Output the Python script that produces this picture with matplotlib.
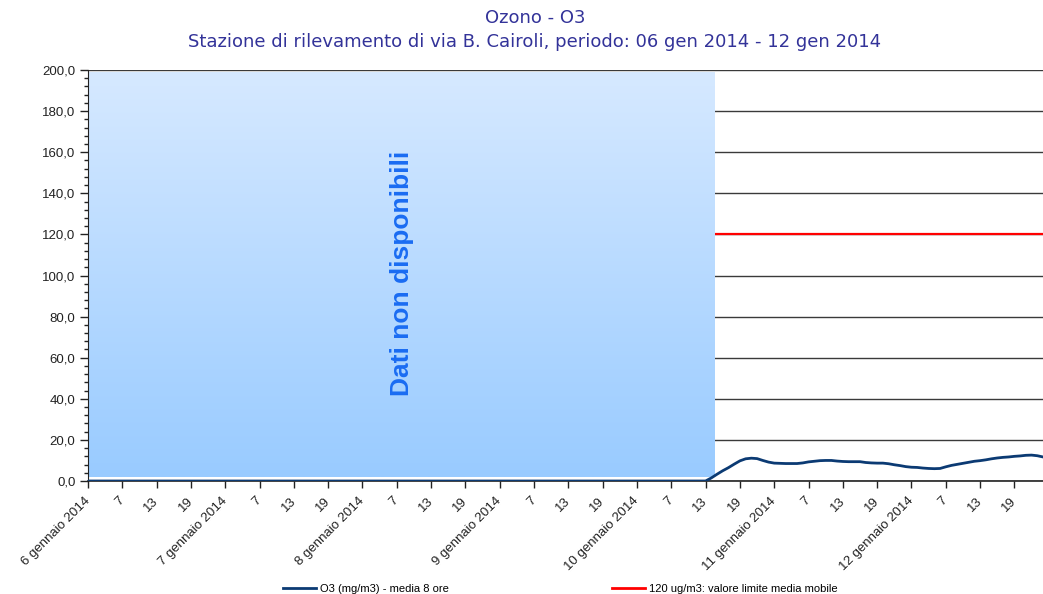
import matplotlib
matplotlib.use("Agg")
import matplotlib.pyplot as plt
import numpy as np
from matplotlib.lines import Line2D
from matplotlib.ticker import MultipleLocator, FuncFormatter

# ---------------- data ----------------
title_line1 = "Ozono - O3"
title_line2 = "Stazione di rilevamento di via B. Cairoli, periodo: 06 gen 2014 - 12 gen 2014"
days = [6, 7, 8, 9, 10, 11, 12]
hour_labels = ["7", "13", "19"]
series_label = "O3 (mg/m3) - media 8 ore"
limit_label = "120 ug/m3: valore limite media mobile"
limit_value = 120.0
no_data_text = "Dati non disponibili"
no_data_end_hour = 109.6   # hours after 6 gen 01:00 without data

# hourly values, hour 0 = 6 gen 2014 01:00
o3_zero_part = [0.0] * 109
o3_measured = [1.5, 3.3, 5.0, 6.5, 8.2, 9.8, 10.8, 11.1, 10.9, 10.0,
               9.2, 8.7, 8.6, 8.5, 8.5, 8.5, 8.8, 9.3, 9.6, 9.9,
               10.0, 10.0, 9.7, 9.5, 9.4, 9.4, 9.4, 9.0, 8.8, 8.7,
               8.7, 8.4, 7.9, 7.5, 7.0, 6.7, 6.6, 6.3, 6.1, 6.0,
               6.1, 6.9, 7.6, 8.1, 8.6, 9.1, 9.6, 9.9, 10.3, 10.8,
               11.2, 11.5, 11.7, 12.0, 12.2, 12.5, 12.6, 12.3, 11.7]
o3_values = o3_zero_part + o3_measured
hours = np.arange(len(o3_values))

# ---------------- figure ----------------
W, H = 1043, 594
fig = plt.figure(figsize=(W / 100, H / 100), dpi=100)
fig.patch.set_facecolor("white")

ax = fig.add_axes([88 / W, 1 - 481 / H, (W - 88) / W, (481 - 70) / H])
x_max = hours[-1]
ax.set_xlim(0, x_max)
ax.set_ylim(0, 200)

# grid
ax.set_axisbelow(True)
ax.yaxis.set_major_locator(MultipleLocator(20))
ax.yaxis.set_minor_locator(MultipleLocator(4))
ax.grid(axis="y", which="major", color="#3a3a3a", linewidth=1.0, zorder=0.5)
ax.yaxis.set_major_formatter(FuncFormatter(lambda v, p: f"{v:.1f}".replace(".", ",")))

# no-data shaded area (vertical gradient)
top_c = np.array([214, 233, 255]) / 255
bot_c = np.array([153, 203, 255]) / 255
frac = np.linspace(0, 1, 256)[:, None]
grad = (top_c[None, :] * (1 - frac) + bot_c[None, :] * frac)[:, None, :]
ax.imshow(grad, extent=[0, no_data_end_hour, 2, 199], aspect="auto",
          origin="upper", zorder=1, interpolation="bilinear")
ax.text(54.9, 101, no_data_text, rotation=90, ha="center", va="center",
        fontsize=19, fontweight="bold", color="#1a6cf2",
        family="Liberation Sans", zorder=2)

# series
line_color = "#0b3a73"
ax.plot(hours, o3_values, color=line_color, linewidth=2.0, zorder=3,
        solid_joinstyle="round")
ax.hlines(limit_value, no_data_end_hour, x_max, color="#ff0000",
          linewidth=1.6, zorder=3)

# x ticks
tick_pos = []
tick_lab = []
for i, d in enumerate(days):
    base = i * 24
    tick_pos.append(base)
    tick_lab.append(f"{d} gennaio 2014")
    for j, hl in enumerate(hour_labels):
        tick_pos.append(base + 6 * (j + 1))
        tick_lab.append(hl)
ax.set_xticks(tick_pos)
ax.set_xticklabels(tick_lab, rotation=45, ha="right", va="center",
                   rotation_mode="anchor", fontsize=9.5, family="Liberation Sans",
                   color="#222222")
ax.tick_params(axis="x", length=5, width=1, direction="out", pad=8, color="#222222")
ax.tick_params(axis="y", which="major", length=6, width=1, direction="out",
               labelsize=9.5, pad=3, color="#222222", labelcolor="#222222")
ax.tick_params(axis="y", which="minor", length=3, width=1, direction="out", color="#222222")
for lab in ax.get_yticklabels():
    lab.set_family("Liberation Sans")

for s in ["right", "top"]:
    ax.spines[s].set_visible(False)
ax.spines["left"].set_color("#222222")
ax.spines["bottom"].set_color("#222222")
ax.spines["bottom"].set_linewidth(1.2)

# titles
title_color = "#333399"
fig.text(535 / W, 1 - 18 / H, title_line1, ha="center", va="center",
         fontsize=13, color=title_color, family="DejaVu Sans")
fig.text(535 / W, 1 - 42 / H, title_line2, ha="center", va="center",
         fontsize=13, color=title_color, family="DejaVu Sans")

# legend
h1 = Line2D([], [], color=line_color, linewidth=2.0)
h2 = Line2D([], [], color="#ff0000", linewidth=2.0)
leg_kw = dict(frameon=False, loc="center left", borderpad=0, borderaxespad=0,
              handlelength=3.0, handletextpad=0.3,
              prop={"family": "Liberation Sans", "size": 8})
leg1 = fig.legend([h1], [series_label], bbox_to_anchor=(283 / W, 1 - 589 / H), **leg_kw)
leg2 = fig.legend([h2], [limit_label], bbox_to_anchor=(612 / W, 1 - 589 / H), **leg_kw)

fig.savefig("out.png", dpi=100, facecolor="white")
